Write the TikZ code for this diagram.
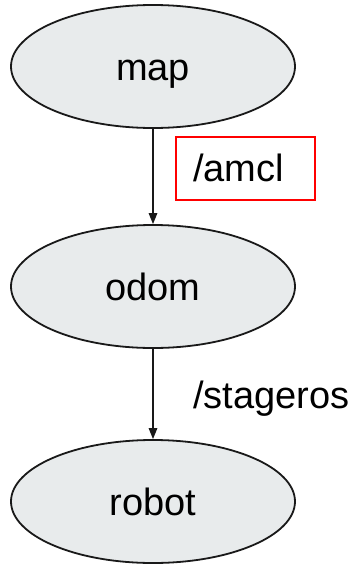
\documentclass[tikz,border=0pt]{standalone}
\usepackage{fontspec}
\setmainfont{Liberation Sans}
\usetikzlibrary{arrows.meta,shapes.geometric}
\definecolor{framefill}{RGB}{232,235,236}
\definecolor{framedraw}{RGB}{25,25,25}
\begin{document}
\begin{tikzpicture}[x=1pt,y=-1pt,
  frame/.style={ellipse, draw=framedraw, fill=framefill, line width=1.8pt,
    minimum width=284pt, minimum height=123pt, inner sep=0pt,
    text height=27pt, text depth=0pt, font=\fontsize{38}{38}\selectfont},
  tf/.style={draw=framedraw, line width=1.5pt,
    -{Triangle[length=11pt,width=8.5pt]}},
  lbl/.style={anchor=base west, inner sep=0pt, font=\fontsize{38}{38}\selectfont}]
  \useasboundingbox (0,0) rectangle (351,565);
  \node[frame] (map) at (153,66.5) {map};
  \node[frame] (odom) at (153,286.5) {odom};
  \node[frame] (robot) at (153,501.5) {robot};
  \draw[tf] (map.south) -- (odom.north);
  \draw[tf] (odom.south) -- (robot.north);
  \node[draw=red, line width=2pt, minimum width=139pt, minimum height=63pt,
    inner sep=0pt] (amclbox) at (245.5,168.5) {};
  \node[lbl] (amcl) at (193,181) {/amcl};
  \node[lbl] (stageros) at (193,408) {/stageros};
\end{tikzpicture}
\end{document}
